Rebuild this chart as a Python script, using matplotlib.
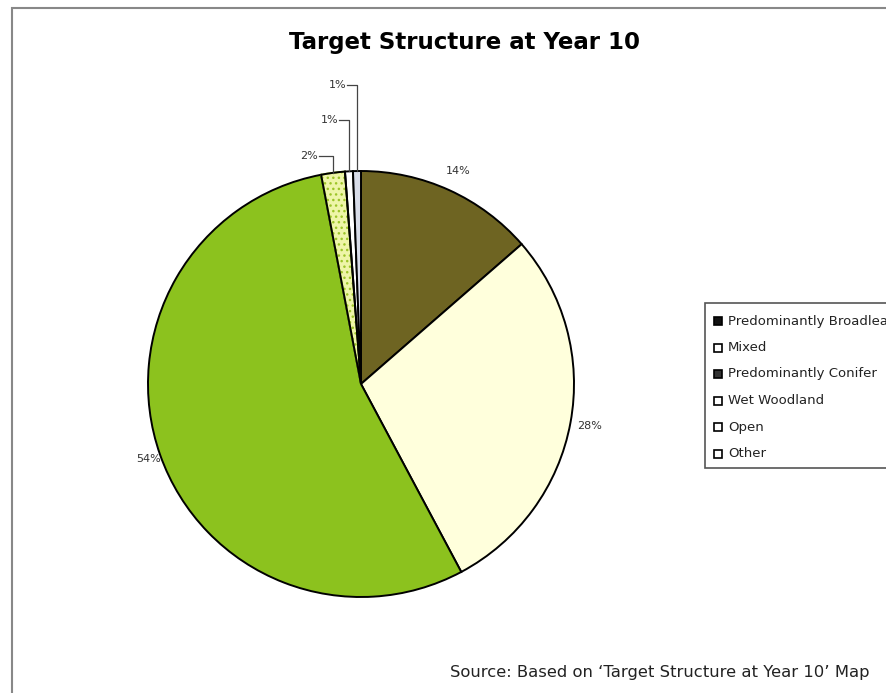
import numpy as np
import matplotlib.pyplot as plt
from matplotlib.patches import Rectangle, Wedge

# dati
categories = ["Predominantly Broadleaf", "Mixed", "Predominantly Conifer",
              "Wet Woodland", "Open", "Other"]
shares = [13.6, 28.6, 54.8, 1.8, 0.6, 0.6]
pct_labels = ["14%", "28%", "54%", "2%", "1%", "1%"]

colors = ["#6e6422", "#ffffdc", "#8cc21e", "#eef5a8", "#ffffff", "#d8dce8"]
legend_colors = ["#111111", "#ffffff", "#333333", "#ffffff", "#ffffff", "#ffffff"]

W, H = 887, 693
fig = plt.figure(figsize=(W / 100, H / 100), dpi=100)
ax = fig.add_axes([0, 0, 1, 1])

cx, cy, r = 361, H - 384, 213
wedges, _ = ax.pie(shares, colors=colors, startangle=90, counterclock=False,
                   center=(cx, cy), radius=r, frame=True,
                   wedgeprops=dict(edgecolor="black", linewidth=1.4))
wedges[3].set_hatch("...")
wedges[3].set_edgecolor("#9cc428")
# bordo nero sopra il tratteggio
w3 = wedges[3]
ax.add_patch(Wedge((cx, cy), r, w3.theta1, w3.theta2, facecolor="none",
                   edgecolor="black", linewidth=1.4))

ax.set_xlim(0, W)
ax.set_ylim(0, H)
ax.set_aspect("auto")
ax.axis("off")

# etichette percentuali
label_dist = [1.1, 1.09, 1.06]
for i in range(3):
    w = wedges[i]
    mid = np.deg2rad((w.theta1 + w.theta2) / 2)
    d = label_dist[i]
    ax.text(cx + r * d * np.cos(mid), cy + r * d * np.sin(mid), pct_labels[i],
            ha="center", va="center", fontsize=8, color="#333333")

# etichette piccole con linee guida
lead_y = [H - 156, H - 120, H - 85]
lead_dx = [14, 10, 10]
for k, i in enumerate([3, 4, 5]):
    w = wedges[i]
    mid = np.deg2rad((w.theta1 + w.theta2) / 2)
    x0 = cx + r * np.cos(mid)
    y0 = cy + r * np.sin(mid)
    ax.plot([x0, x0, x0 - lead_dx[k]], [y0, lead_y[k], lead_y[k]],
            color="#444444", linewidth=0.9)
    ax.text(x0 - lead_dx[k] - 1, lead_y[k], pct_labels[i], ha="right", va="center",
            fontsize=8, color="#333333")

# titolo e fonte
fig.text(465 / W, 1 - 42 / H, "Target Structure at Year 10", ha="center", va="center",
         fontsize=16.5, fontweight="bold")
fig.text(450 / W, 1 - 673 / H, "Source: Based on \u2018Target Structure at Year 10\u2019 Map",
         ha="left", va="center", fontsize=11.8, color="#222222")

# cornice
ax.add_patch(Rectangle((12, -20), W + 50, H - 8 + 20, fill=False,
                       edgecolor="#888888", linewidth=1.5))

# legenda (tagliata a destra come nell'originale)
lx, ly_top, lh = 705, H - 303, 165
ax.add_patch(Rectangle((lx, ly_top - lh), 220, lh, facecolor="white",
                       edgecolor="#555555", linewidth=1.2))
for i, name in enumerate(categories):
    yy = ly_top - 18 - i * 26.5
    ax.add_patch(Rectangle((lx + 9, yy - 4), 8, 8, facecolor=legend_colors[i],
                           edgecolor="black", linewidth=1.2))
    ax.text(lx + 23, yy, name, ha="left", va="center", fontsize=9.5, color="#222222")

fig.savefig("out.png", dpi=100)
